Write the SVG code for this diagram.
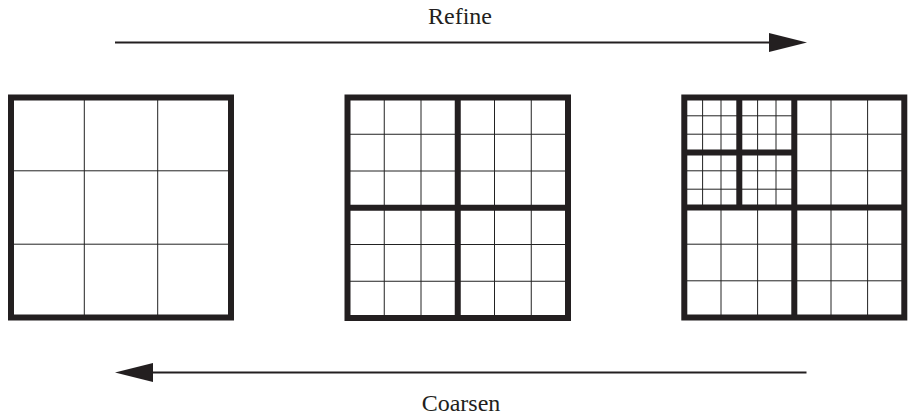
<svg xmlns="http://www.w3.org/2000/svg" width="910" height="416" viewBox="0 0 910 416">
  <style>
    .thin { stroke: #222; stroke-width: 1; fill: none; }
    .thick { stroke: #231f20; stroke-width: 6; fill: none; }
    .conn { stroke: #231f20; stroke-width: 2; fill: none; }
    .label { font-family: "Liberation Serif", "Times New Roman", serif; font-size: 24px; fill: #231f20; text-anchor: middle; }
  </style>
  <defs>
    <marker id="head" markerUnits="userSpaceOnUse" markerWidth="40" markerHeight="20" refX="0" refY="9.5" orient="auto">
      <path d="M0,0 L38,9.5 L0,19 z" fill="#231f20"/>
    </marker>
  </defs>
  <rect width="910" height="416" fill="#fff"/>

  <g id="grid-coarse">
    <path class="thin" d="M84.3,97.5V317.5M157.7,97.5V317.5M11,170.8H231M11,244.2H231"/>
    <rect class="thick" x="11" y="97.5" width="220" height="220"/>
  </g>

  <g id="grid-refined">
    <path class="thin" d="M384.25,97.5V318M421,97.5V318M494.5,97.5V318M531.25,97.5V318M347.5,134.25H568M347.5,171H568M347.5,244.5H568M347.5,281.25H568"/>
    <path class="thick" d="M457.75,97.5V318M347.5,207.75H568"/>
    <rect class="thick" x="347.5" y="97.5" width="220.5" height="220.5"/>
  </g>

  <g id="grid-adaptive">
    <path class="thin" d="M702.6,97.5V207.5M721,97.5V207.5M757.6,97.5V207.5M776,97.5V207.5M684.3,115.8H794.3M684.3,134.2H794.3M684.3,170.8H794.3M684.3,189.2H794.3"/>
    <path class="thin" d="M721,207.5V317.5M757.6,207.5V317.5M831,97.5V317.5M867.6,97.5V317.5M794.3,134.2H904.3M794.3,170.8H904.3M684.3,244.2H904.3M684.3,280.8H904.3"/>
    <path class="thick" d="M739.3,97.5V207.5M684.3,152.5H794.3"/>
    <path class="thick" d="M794.3,97.5V317.5M684.3,207.5H904.3"/>
    <rect class="thick" x="684.3" y="97.5" width="220" height="220"/>
  </g>

  <g id="connectors">
    <line class="conn" x1="115" y1="42.5" x2="769" y2="42.5" marker-end="url(#head)"/>
    <line class="conn" x1="806.5" y1="372.5" x2="153" y2="372.5" marker-end="url(#head)"/>
  </g>

  <g id="labels">
    <text class="label" x="460" y="23.5">Refine</text>
    <text class="label" x="461" y="411">Coarsen</text>
  </g>
</svg>
